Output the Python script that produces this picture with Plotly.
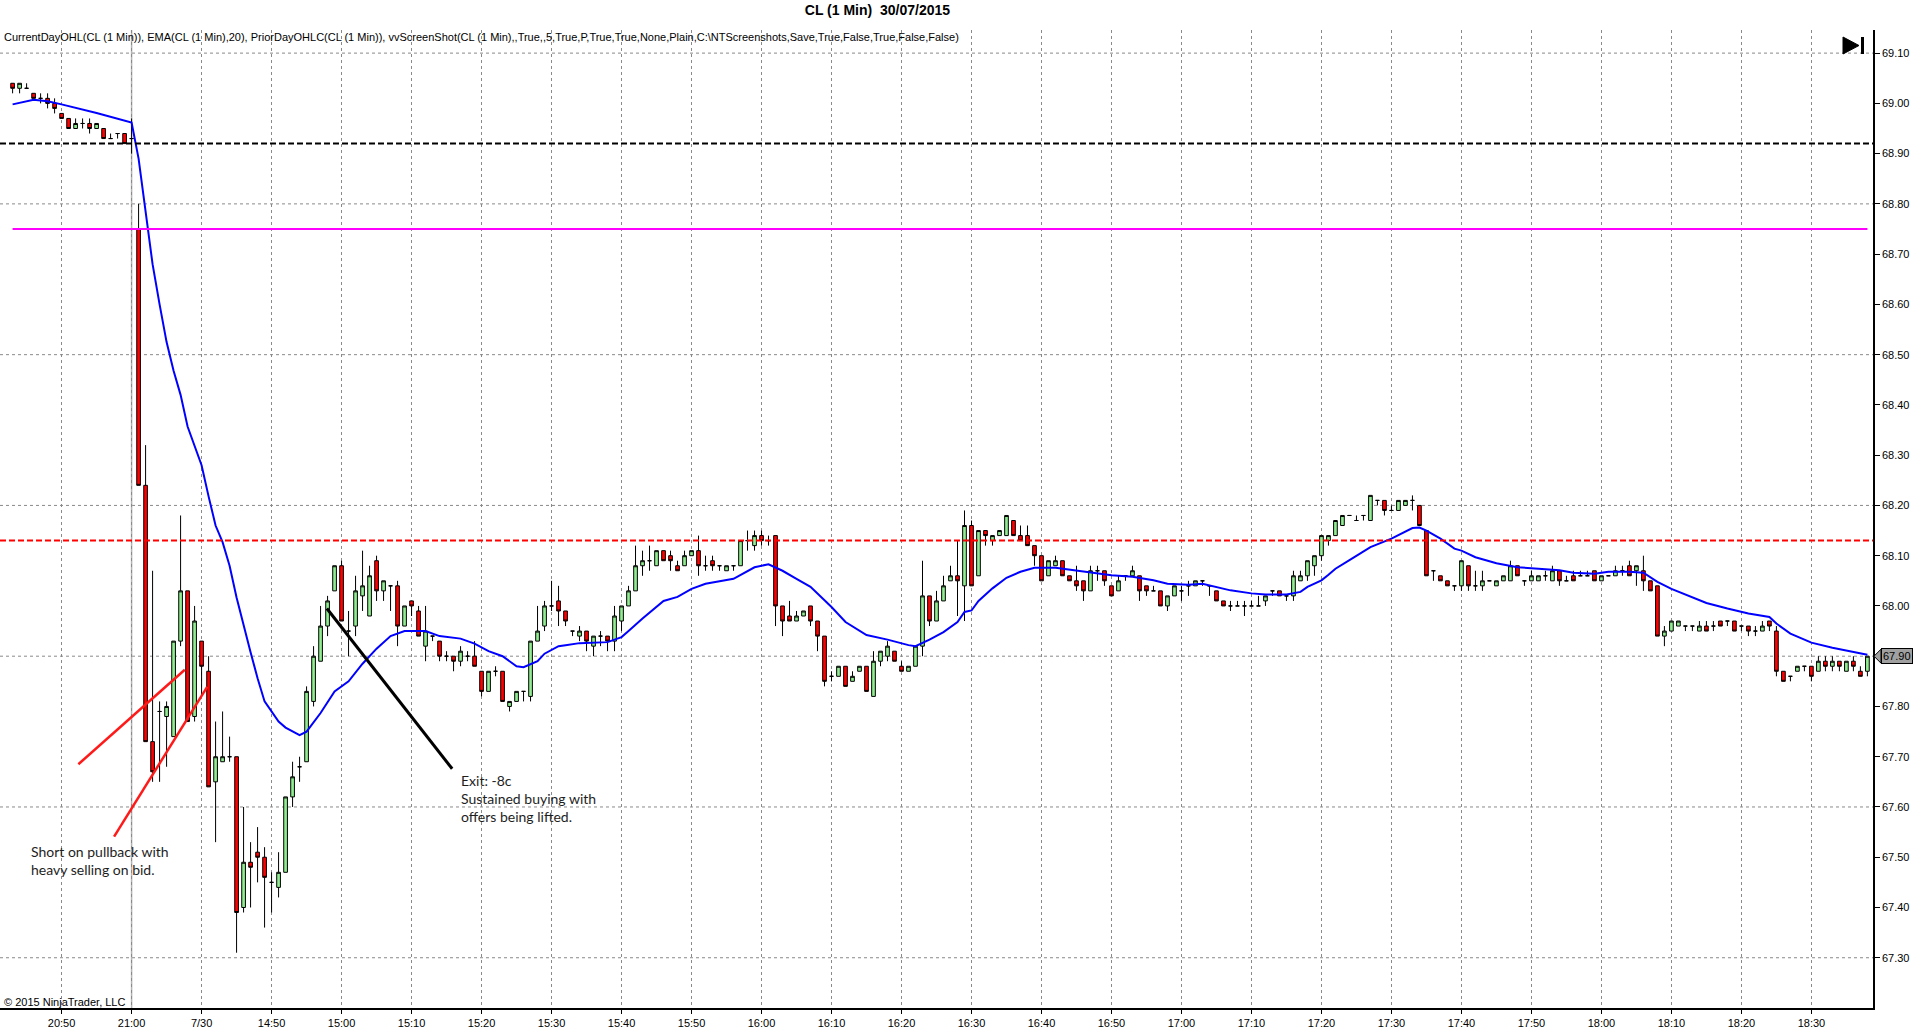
import plotly.graph_objects as go

# =======================================
# data (CL 1 min)
# bar index 0 = 20:50, one bar per minute, session break after 21:00

first_bar = -7

opens = [69.04, 69.03, 69.03, 69.02, 69.01, 69.01, 69.00,
         68.98, 68.97, 68.95, 68.96, 68.96, 68.95, 68.95, 68.93, 68.94, 68.94,
         68.93, 68.75, 68.24, 67.73, 67.79, 67.78, 67.74, 67.93, 68.03, 67.78,
         67.93, 67.87, 67.65, 67.69, 67.70, 67.70, 67.40, 67.49, 67.51, 67.50,
         67.45, 67.44, 67.47, 67.62, 67.68, 67.69, 67.81, 67.89, 67.96, 68.03,
         68.08, 67.95, 67.96, 68.02, 67.98, 68.09, 68.03, 68.04, 68.04, 67.96,
         68.01, 67.99, 67.92, 67.94, 67.93, 67.90, 67.90, 67.89, 67.90, 67.90,
         67.87, 67.83, 67.87, 67.87, 67.80, 67.81, 67.83, 67.82, 67.93, 67.96,
         68.00, 68.01, 67.99, 67.95, 67.94, 67.95, 67.92, 67.94, 67.94, 67.93,
         67.97, 68.00, 68.03, 68.08, 68.09, 68.08, 68.11, 68.10, 68.08, 68.08,
         68.10, 68.11, 68.08, 68.09, 68.08, 68.07, 68.08, 68.08, 68.13, 68.12,
         68.14, 68.13, 68.14, 68.00, 67.98, 67.97, 67.98, 68.00, 67.97, 67.94,
         67.86, 67.86, 67.88, 67.85, 67.87, 67.88, 67.82, 67.89, 67.90, 67.91,
         67.88, 67.87, 67.88, 67.92, 68.02, 67.97, 68.01, 68.05, 68.06, 68.04,
         68.16, 68.06, 68.15, 68.13, 68.14, 68.14, 68.17, 68.14, 68.14, 68.12,
         68.10, 68.06, 68.08, 68.09, 68.06, 68.05, 68.05, 68.03, 68.07, 68.07,
         68.04, 68.03, 68.06, 68.06, 68.06, 68.04, 68.03, 68.03, 68.00, 68.02,
         68.03, 68.04, 68.04, 68.05, 68.04, 68.03, 68.01, 68.00, 68.00, 68.00,
         68.00, 68.00, 68.01, 68.03, 68.03, 68.02, 68.02, 68.05, 68.06, 68.08,
         68.10, 68.13, 68.14, 68.16, 68.18, 68.17, 68.18, 68.17, 68.21, 68.21,
         68.19, 68.19, 68.20, 68.21, 68.20, 68.15, 68.07, 68.06, 68.05, 68.04,
         68.04, 68.08, 68.04, 68.04, 68.05, 68.04, 68.05, 68.05, 68.08, 68.05,
         68.05, 68.05, 68.06, 68.05, 68.07, 68.05, 68.06, 68.06, 68.06, 68.07,
         68.05, 68.06, 68.06, 68.07, 68.08, 68.07, 68.07, 68.05, 68.04, 67.94,
         67.95, 67.96, 67.96, 67.96, 67.95, 67.96, 67.96, 67.97, 67.97, 67.97,
         67.96, 67.96, 67.95, 67.95, 67.97, 67.95, 67.87, 67.86, 67.87, 67.88,
         67.88, 67.87, 67.89, 67.88, 67.89, 67.87, 67.89, 67.87, 67.87]

highs = [69.04, 69.04, 69.04, 69.02, 69.02, 69.02, 69.01,
         68.98, 68.97, 68.97, 68.97, 68.97, 68.96, 68.95, 68.94, 68.94, 68.94,
         68.97, 68.80, 68.32, 68.07, 67.81, 67.81, 67.93, 68.18, 68.03, 68.00,
         67.93, 67.90, 67.77, 67.79, 67.74, 67.70, 67.60, 67.53, 67.56, 67.52,
         67.47, 67.51, 67.62, 67.69, 67.70, 67.84, 67.92, 68.00, 68.02, 68.08,
         68.09, 67.99, 68.06, 68.11, 68.08, 68.10, 68.05, 68.04, 68.05, 68.00,
         68.01, 68.00, 68.00, 67.94, 67.93, 67.91, 67.90, 67.92, 67.91, 67.93,
         67.87, 67.87, 67.88, 67.87, 67.81, 67.83, 67.83, 67.93, 68.00, 68.01,
         68.05, 68.04, 67.99, 67.95, 67.96, 67.95, 67.94, 67.95, 67.94, 68.00,
         68.00, 68.04, 68.12, 68.11, 68.12, 68.11, 68.11, 68.11, 68.09, 68.11,
         68.11, 68.14, 68.10, 68.10, 68.08, 68.08, 68.08, 68.13, 68.15, 68.15,
         68.15, 68.14, 68.14, 68.00, 68.01, 67.99, 67.99, 68.00, 67.97, 67.94,
         67.87, 67.88, 67.88, 67.87, 67.88, 67.88, 67.91, 67.91, 67.93, 67.91,
         67.89, 67.88, 67.92, 68.09, 68.02, 68.03, 68.06, 68.08, 68.13, 68.19,
         68.17, 68.15, 68.15, 68.14, 68.15, 68.18, 68.17, 68.16, 68.16, 68.12,
         68.10, 68.09, 68.10, 68.09, 68.06, 68.08, 68.05, 68.08, 68.08, 68.07,
         68.04, 68.06, 68.06, 68.08, 68.06, 68.04, 68.04, 68.03, 68.02, 68.04,
         68.04, 68.05, 68.05, 68.05, 68.04, 68.03, 68.01, 68.01, 68.01, 68.01,
         68.01, 68.02, 68.02, 68.03, 68.03, 68.02, 68.07, 68.07, 68.09, 68.10,
         68.14, 68.14, 68.17, 68.18, 68.18, 68.18, 68.18, 68.22, 68.21, 68.21,
         68.20, 68.21, 68.21, 68.22, 68.20, 68.15, 68.07, 68.06, 68.05, 68.04,
         68.09, 68.08, 68.07, 68.07, 68.05, 68.05, 68.06, 68.09, 68.08, 68.05,
         68.07, 68.06, 68.07, 68.08, 68.07, 68.06, 68.07, 68.07, 68.07, 68.07,
         68.06, 68.06, 68.08, 68.08, 68.09, 68.08, 68.10, 68.05, 68.04, 67.96,
         67.97, 67.97, 67.96, 67.96, 67.97, 67.97, 67.97, 67.97, 67.97, 67.97,
         67.96, 67.96, 67.96, 67.97, 67.97, 67.96, 67.87, 67.86, 67.88, 67.88,
         67.88, 67.90, 67.90, 67.90, 67.89, 67.89, 67.90, 67.88, 67.90]

lows = [69.02, 69.02, 69.03, 69.01, 69.00, 68.99, 68.98,
        68.97, 68.95, 68.95, 68.95, 68.94, 68.95, 68.93, 68.93, 68.93, 68.92,
        68.90, 68.24, 67.73, 67.65, 67.65, 67.68, 67.74, 67.92, 67.77, 67.77,
        67.82, 67.64, 67.53, 67.69, 67.69, 67.31, 67.39, 67.40, 67.45, 67.36,
        67.39, 67.42, 67.47, 67.60, 67.65, 67.69, 67.80, 67.89, 67.94, 68.03,
        67.97, 67.90, 67.94, 67.99, 67.98, 68.01, 68.01, 67.99, 67.92, 67.96,
        67.98, 67.94, 67.89, 67.93, 67.89, 67.89, 67.87, 67.88, 67.89, 67.88,
        67.82, 67.83, 67.86, 67.81, 67.79, 67.81, 67.81, 67.81, 67.93, 67.95,
        67.99, 67.96, 67.96, 67.94, 67.93, 67.91, 67.90, 67.92, 67.91, 67.91,
        67.95, 68.00, 68.03, 68.06, 68.07, 68.08, 68.09, 68.07, 68.07, 68.08,
        68.10, 68.06, 68.07, 68.07, 68.07, 68.07, 68.07, 68.08, 68.11, 68.11,
        68.12, 68.12, 67.96, 67.94, 67.97, 67.97, 67.98, 67.96, 67.91, 67.84,
        67.85, 67.86, 67.84, 67.85, 67.87, 67.83, 67.82, 67.88, 67.89, 67.89,
        67.87, 67.87, 67.88, 67.90, 67.96, 67.97, 68.01, 68.05, 67.98, 67.97,
        68.04, 68.06, 68.12, 68.12, 68.14, 68.14, 68.14, 68.13, 68.12, 68.08,
        68.05, 68.06, 68.08, 68.06, 68.05, 68.03, 68.01, 68.03, 68.05, 68.04,
        68.02, 68.03, 68.05, 68.06, 68.01, 68.02, 68.03, 68.00, 67.99, 68.02,
        68.01, 68.02, 68.04, 68.04, 68.02, 68.01, 68.00, 67.99, 68.00, 67.98,
        68.00, 68.00, 68.00, 68.02, 68.02, 68.01, 68.01, 68.05, 68.05, 68.06,
        68.09, 68.12, 68.14, 68.16, 68.18, 68.17, 68.17, 68.17, 68.20, 68.18,
        68.19, 68.19, 68.20, 68.19, 68.16, 68.06, 68.05, 68.05, 68.04, 68.03,
        68.03, 68.03, 68.03, 68.03, 68.05, 68.04, 68.05, 68.05, 68.06, 68.04,
        68.05, 68.05, 68.05, 68.05, 68.04, 68.05, 68.05, 68.06, 68.06, 68.05,
        68.05, 68.06, 68.06, 68.06, 68.06, 68.04, 68.03, 68.03, 67.94, 67.92,
        67.95, 67.96, 67.95, 67.95, 67.95, 67.95, 67.95, 67.96, 67.96, 67.95,
        67.95, 67.94, 67.94, 67.95, 67.95, 67.86, 67.85, 67.85, 67.87, 67.87,
        67.85, 67.87, 67.87, 67.87, 67.87, 67.87, 67.87, 67.86, 67.86]

closes = [69.03, 69.04, 69.03, 69.01, 69.01, 69.00, 68.99,
          68.97, 68.95, 68.96, 68.96, 68.95, 68.96, 68.93, 68.93, 68.94, 68.92,
          68.93, 68.24, 67.73, 67.67, 67.79, 67.80, 67.93, 68.03, 67.77, 67.97,
          67.88, 67.64, 67.70, 67.70, 67.70, 67.39, 67.49, 67.48, 67.50, 67.46,
          67.45, 67.47, 67.62, 67.66, 67.68, 67.83, 67.90, 67.96, 68.01, 68.08,
          67.97, 67.95, 68.03, 68.04, 68.06, 68.03, 68.05, 68.04, 67.96, 68.00,
          68.00, 67.94, 67.95, 67.94, 67.90, 67.90, 67.89, 67.91, 67.90, 67.88,
          67.83, 67.87, 67.87, 67.81, 67.81, 67.83, 67.83, 67.93, 67.95, 68.00,
          68.00, 67.99, 67.97, 67.95, 67.95, 67.93, 67.94, 67.94, 67.93, 67.98,
          68.00, 68.03, 68.08, 68.09, 68.09, 68.11, 68.09, 68.09, 68.07, 68.10,
          68.11, 68.08, 68.08, 68.08, 68.08, 68.08, 68.08, 68.13, 68.13, 68.14,
          68.13, 68.13, 68.00, 67.97, 67.97, 67.98, 67.99, 67.97, 67.94, 67.85,
          67.86, 67.88, 67.84, 67.86, 67.88, 67.83, 67.89, 67.91, 67.92, 67.89,
          67.87, 67.88, 67.92, 68.02, 67.97, 68.01, 68.04, 68.06, 68.05, 68.16,
          68.04, 68.15, 68.14, 68.14, 68.15, 68.18, 68.14, 68.13, 68.12, 68.10,
          68.05, 68.09, 68.09, 68.06, 68.05, 68.04, 68.03, 68.07, 68.07, 68.05,
          68.02, 68.05, 68.06, 68.07, 68.03, 68.03, 68.03, 68.00, 68.02, 68.04,
          68.03, 68.04, 68.05, 68.05, 68.04, 68.01, 68.00, 68.00, 68.00, 68.00,
          68.00, 68.00, 68.02, 68.03, 68.02, 68.02, 68.06, 68.06, 68.09, 68.10,
          68.14, 68.14, 68.17, 68.18, 68.18, 68.17, 68.18, 68.22, 68.21, 68.19,
          68.19, 68.21, 68.21, 68.21, 68.16, 68.06, 68.07, 68.05, 68.04, 68.04,
          68.09, 68.04, 68.04, 68.05, 68.05, 68.05, 68.06, 68.08, 68.06, 68.05,
          68.06, 68.06, 68.06, 68.07, 68.05, 68.05, 68.05, 68.06, 68.06, 68.05,
          68.06, 68.06, 68.07, 68.07, 68.06, 68.08, 68.05, 68.03, 67.94, 67.95,
          67.97, 67.97, 67.96, 67.96, 67.96, 67.95, 67.96, 67.96, 67.97, 67.95,
          67.96, 67.95, 67.95, 67.96, 67.96, 67.87, 67.85, 67.86, 67.88, 67.88,
          67.86, 67.89, 67.88, 67.89, 67.88, 67.89, 67.88, 67.86, 67.90]

bars = list(range(first_bar, first_bar + len(closes)))

# EMA(20) as drawn on the chart
ema_x = [-7, -4, -2, 0, 5, 10, 11, 12, 13, 14, 15, 16, 17, 18, 19, 20, 21, 22, 23,
         24, 25, 26, 27, 28, 29, 31, 32, 34, 35, 37, 39, 41, 43, 45, 47, 49, 52,
         54, 57, 59, 61, 63, 65, 66, 68, 69, 71, 72, 74, 78, 80, 81, 83, 86, 88,
         90, 92, 96, 98, 99, 101, 103, 105, 107, 110, 112, 115, 118, 121, 122,
         124, 126, 128, 129, 130, 131, 133, 135, 137, 139, 142, 144, 147, 150,
         153, 156, 158, 161, 163, 165, 167, 170, 172, 175, 177, 178, 180, 181,
         182, 184, 187, 190, 193, 194, 195, 197, 199, 200, 202, 205, 208, 211,
         214, 216, 219, 221, 224, 226, 228, 230, 233, 235, 238, 241, 244, 245,
         247, 250, 253, 256, 258]
ema_y = [68.998, 69.007, 69.004, 68.998, 68.981, 68.962, 68.890, 68.785, 68.680,
         68.600, 68.525, 68.468, 68.420, 68.357, 68.320, 68.280, 68.218, 68.160,
         68.127, 68.080, 68.017, 67.960, 67.908, 67.856, 67.810, 67.770, 67.758,
         67.743, 67.750, 67.787, 67.830, 67.850, 67.885, 67.915, 67.940, 67.950,
         67.950, 67.940, 67.935, 67.925, 67.910, 67.900, 67.880, 67.878, 67.890,
         67.905, 67.920, 67.922, 67.926, 67.928, 67.938, 67.950, 67.975, 68.010,
         68.018, 68.034, 68.044, 68.054, 68.070, 68.077, 68.083, 68.070, 68.054,
         68.038, 67.998, 67.968, 67.942, 67.933, 67.922, 67.920, 67.933, 67.948,
         67.968, 67.988, 67.991, 68.010, 68.035, 68.056, 68.068, 68.076, 68.076,
         68.072, 68.066, 68.061, 68.058, 68.051, 68.044, 68.042, 68.044, 68.038,
         68.031, 68.025, 68.023, 68.023, 68.028, 68.038, 68.051, 68.062, 68.074,
         68.091, 68.117, 68.134, 68.155, 68.156, 68.150, 68.134, 68.114, 68.110,
         68.097, 68.085, 68.077, 68.074, 68.071, 68.066, 68.064, 68.068, 68.068,
         68.066, 68.048, 68.034, 68.018, 68.006, 67.995, 67.985, 67.978, 67.965,
         67.945, 67.927, 67.917, 67.909, 67.903]

prior_close = 68.92
day_open = 68.75
level_red = 68.13
last_price = 67.90

tick_labels = ["20:50", "21:00", "7/30", "14:50", "15:00", "15:10", "15:20", "15:30",
               "15:40", "15:50", "16:00", "16:10", "16:20", "16:30", "16:40", "16:50",
               "17:00", "17:10", "17:20", "17:30", "17:40", "17:50", "18:00", "18:10",
               "18:20", "18:30"]
tick_pos = list(range(0, 10 * len(tick_labels), 10))
session_break = 10

price_ticks = [67.30, 67.40, 67.50, 67.60, 67.70, 67.80, 67.90, 68.00, 68.10, 68.20,
               68.30, 68.40, 68.50, 68.60, 68.70, 68.80, 68.90, 69.00, 69.10]
grid_levels = [67.30, 67.60, 67.90, 68.20, 68.50, 68.80, 69.10]

# hand drawn lines on the chart (bar index, price)
entry_line_1 = ([2.4, 17.6], [67.685, 67.873])
entry_line_2 = ([7.5, 20.8], [67.541, 67.839])
exit_line = ([37.9, 55.8], [67.995, 67.676])

legend_text = ("CurrentDayOHL(CL (1 Min)), EMA(CL (1 Min),20), PriorDayOHLC(CL (1 Min)), "
               "vvScreenShot(CL (1 Min),,True,,5,True,P,True,True,None,Plain,"
               "C:\\NTScreenshots,Save,True,False,True,False,False)")

#=======================================
# figure

ARIAL = "Liberation Sans, Arial, sans-serif"
NOTE_FONT = dict(family="Lato, Open Sans, sans-serif", size=14, color="#1e1e1e")

fig = go.Figure()

fig.add_trace(go.Candlestick(
    x=bars, open=opens, high=highs, low=lows, close=closes,
    increasing=dict(fillcolor="#90EE90", line=dict(color="black", width=1)),
    decreasing=dict(fillcolor="#FF0000", line=dict(color="black", width=1)),
    whiskerwidth=0, hoverinfo="skip", name="CL"))

fig.add_trace(go.Scatter(x=ema_x, y=ema_y, mode="lines",
                         line=dict(color="#0000FF", width=2), hoverinfo="skip"))

for xs, ys in [entry_line_1, entry_line_2]:
    fig.add_trace(go.Scatter(x=xs, y=ys, mode="lines",
                             line=dict(color="#FF1A1A", width=2.5), hoverinfo="skip"))
fig.add_trace(go.Scatter(x=exit_line[0], y=exit_line[1], mode="lines",
                         line=dict(color="black", width=3), hoverinfo="skip"))

shapes = []
for lv in grid_levels:
    shapes.append(dict(type="line", xref="paper", x0=0, x1=1, yref="y", y0=lv, y1=lv,
                       line=dict(color="#8a8a8a", width=1, dash="dot"), layer="below"))
# session break
shapes.append(dict(type="line", xref="x", x0=session_break, x1=session_break,
                   yref="paper", y0=0, y1=1, line=dict(color="#b4b4b4", width=1.5),
                   layer="below"))
# prior day / current day levels
shapes.append(dict(type="line", xref="paper", x0=0, x1=1, yref="y", y0=prior_close,
                   y1=prior_close, line=dict(color="black", width=2, dash="6px,3px")))
shapes.append(dict(type="line", xref="x", x0=bars[0], x1=bars[-1], yref="y", y0=day_open,
                   y1=day_open, line=dict(color="#FF00FF", width=2)))
shapes.append(dict(type="line", xref="paper", x0=0, x1=1, yref="y", y0=level_red,
                   y1=level_red, line=dict(color="#FF0000", width=2, dash="6px,3px")))
# "go to end" button top right
shapes.append(dict(type="path", xref="paper", xsizemode="pixel", xanchor=1,
                   yref="paper", ysizemode="pixel", yanchor=1,
                   path="M-30,-7 L-30,-24 L-14,-15.5 Z", fillcolor="black",
                   line=dict(color="black", width=1)))
shapes.append(dict(type="rect", xref="paper", xsizemode="pixel", xanchor=1,
                   x0=-12, x1=-9, yref="paper", ysizemode="pixel", yanchor=1,
                   y0=-7, y1=-24, fillcolor="black", line=dict(width=0)))
# last price marker pointer
shapes.append(dict(type="path", xref="paper", xsizemode="pixel", xanchor=1,
                   yref="y", ysizemode="pixel", yanchor=last_price,
                   path="M1,0 L8,7 L8,-7 Z", fillcolor="#a0a0a0",
                   line=dict(color="black", width=1)))

annotations = [
    dict(text=legend_text, xref="paper", yref="paper", x=0.001, y=0.993,
         xanchor="left", yanchor="middle", showarrow=False,
         font=dict(family=ARIAL, size=11, color="black")),
    dict(text="© 2015 NinjaTrader, LLC", xref="paper", yref="paper", x=0.001, y=0.006,
         xanchor="left", yanchor="middle", showarrow=False,
         font=dict(family=ARIAL, size=11, color="black")),
    dict(text="Short on pullback with<br>heavy selling on bid.", x=-4.7, y=67.533,
         xanchor="left", yanchor="top", align="left", showarrow=False, font=NOTE_FONT),
    dict(text="Exit: -8c<br>Sustained buying with<br>offers being lifted.", x=56.8,
         y=67.674, xanchor="left", yanchor="top", align="left", showarrow=False,
         font=NOTE_FONT),
    dict(text="67.90", xref="paper", x=1, xshift=8, xanchor="left", y=last_price,
         yanchor="middle", showarrow=False, bgcolor="#a0a0a0", bordercolor="black",
         borderwidth=1, borderpad=1, font=dict(family=ARIAL, size=11, color="black")),
]

fig.update_layout(
    width=1920, height=1034,
    margin=dict(l=0, r=47, t=30, b=26),
    paper_bgcolor="white", plot_bgcolor="white",
    showlegend=False,
    boxgap=0.25,
    title=dict(text="<b>CL (1 Min)  30/07/2015</b>", x=0.457, xanchor="center",
               y=0.990, yanchor="middle", font=dict(family=ARIAL, size=14, color="black")),
    xaxis=dict(range=[-8.8, 258.8], tickvals=tick_pos, ticktext=tick_labels,
               showgrid=True, gridcolor="#8a8a8a", griddash="dot", gridwidth=1,
               ticks="outside", ticklen=4, tickcolor="black", showline=True,
               linecolor="black", linewidth=1.5, zeroline=False,
               rangeslider=dict(visible=False),
               tickfont=dict(family=ARIAL, size=11, color="black")),
    yaxis=dict(range=[67.20, 69.146], side="right", tickvals=price_ticks,
               ticktext=["%.2f" % p for p in price_ticks], showgrid=False,
               ticks="outside", ticklen=5, tickcolor="black", showline=True,
               linecolor="black", linewidth=1.5, zeroline=False,
               tickfont=dict(family=ARIAL, size=11, color="black")),
    shapes=shapes,
    annotations=annotations,
)

fig.write_html("out.html", config={"displayModeBar": False},
               post_script="document.body.style.margin='0';document.body.style.overflow='hidden';")
